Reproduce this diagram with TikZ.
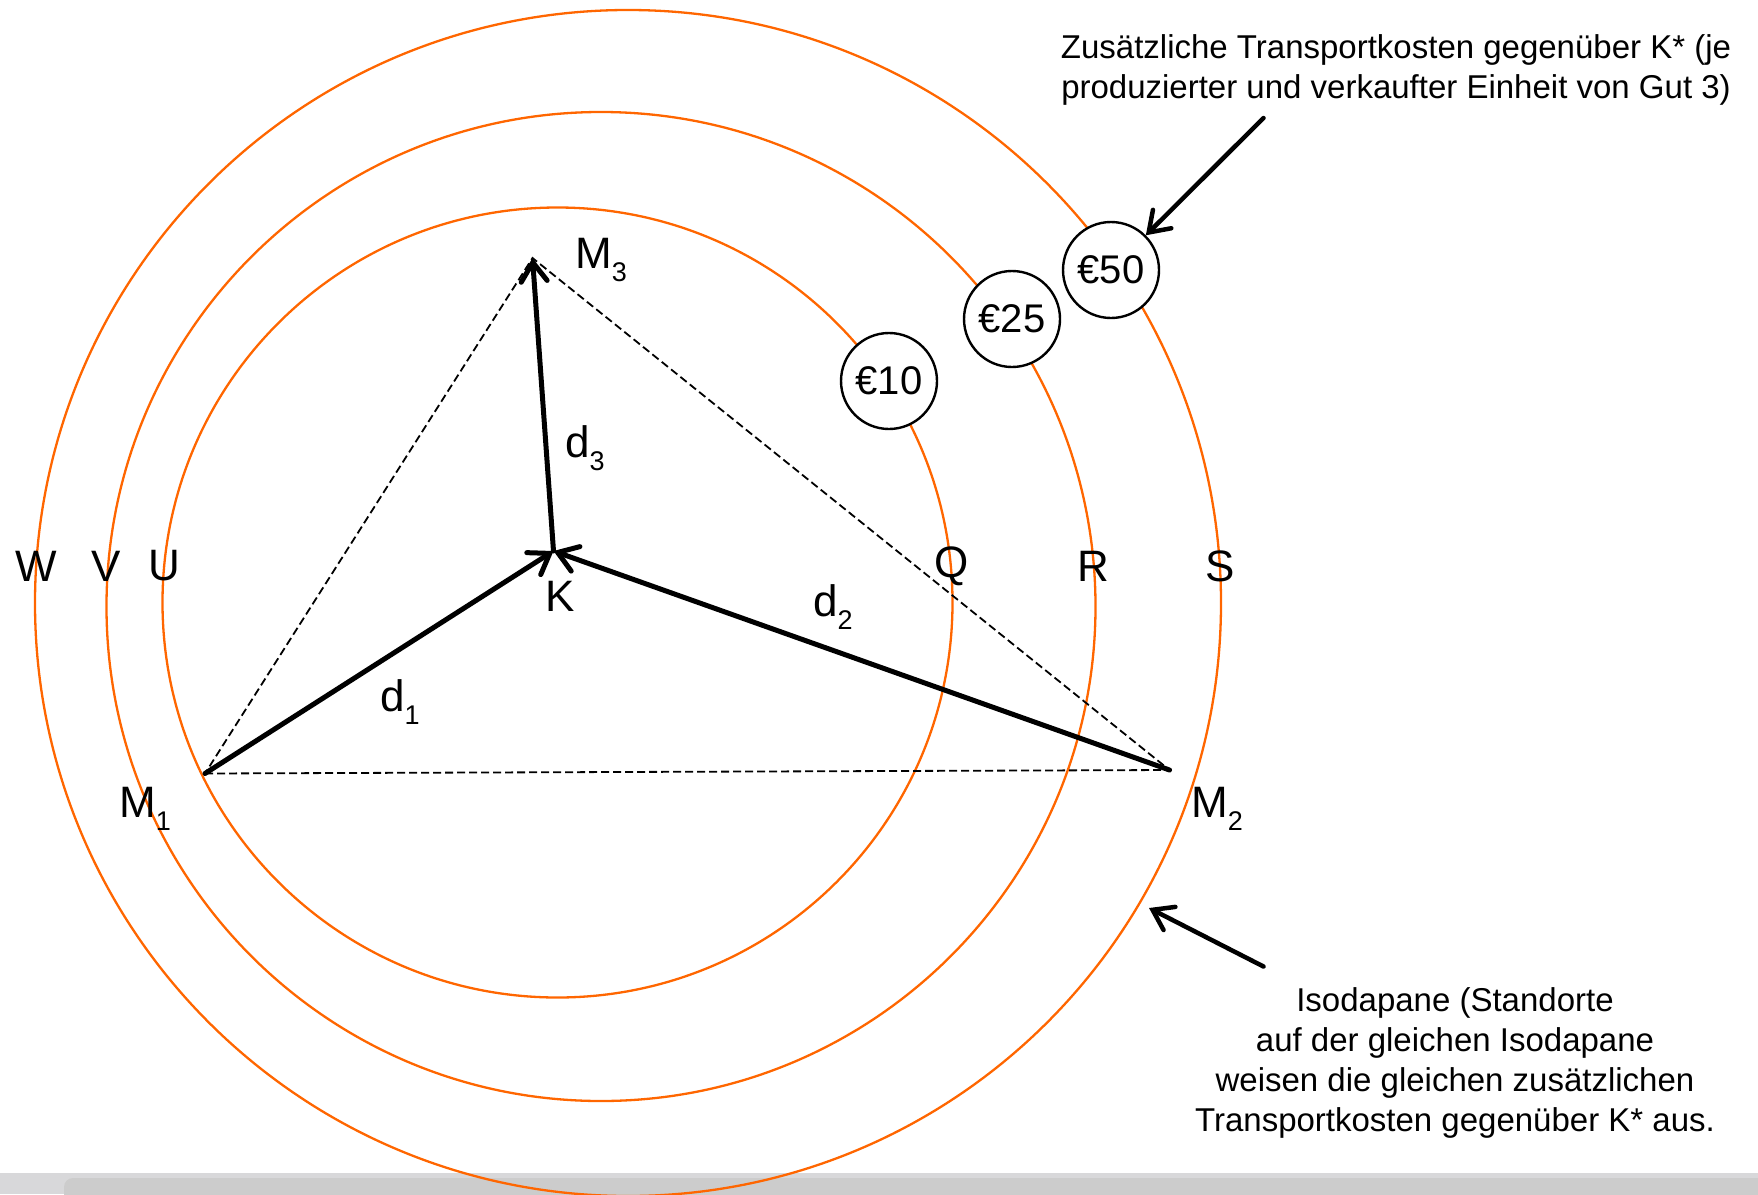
\documentclass[tikz,border=0pt]{standalone}
\usepackage{fontspec}
\setmainfont{Liberation Sans}
\usetikzlibrary{arrows.meta}

\definecolor{isoorange}{RGB}{255,102,0}
\definecolor{barlight}{RGB}{216,216,218}
\definecolor{bardark}{RGB}{204,204,204}

% letter with a lowered index
\newcommand{\ptlabel}[2]{#1\raisebox{-0.3em}{\fontsize{27}{27}\selectfont #2}}

\tikzset{
  isodapane/.style={isoorange, line width=2.3pt},
  route/.style={line width=5pt, line cap=round,
    -{Straight Barb[length=19pt,width=26pt,line cap=round]}},
  pointer/.style={line width=4.5pt, line cap=round,
    -{Straight Barb[length=19pt,width=26pt,line cap=round]}},
  helper/.style={line width=1.8pt, dash pattern=on 8pt off 4pt},
  cost/.style={draw, circle, fill=white, line width=2.4pt, minimum size=96pt,
    inner sep=0pt, font=\fontsize{40}{40}\selectfont},
  letter/.style={font=\fontsize{44}{44}\selectfont, inner sep=0pt},
  note/.style={align=center, font=\fontsize{33}{40}\selectfont, inner sep=0pt}
}

\begin{document}
\begin{tikzpicture}[x=1pt,y=-1pt]
\useasboundingbox (0,0) rectangle (1758,1194);
\clip (0,0) rectangle (1758,1194);

% window bar at the bottom
\fill[barlight] (0,1173) rectangle (1758,1194);
\fill[bardark, rounded corners=9pt] (64,1178) rectangle (1790,1214);

% isodapanes
\coordinate (c1) at (557.5,602.5);
\coordinate (c2) at (601,606.5);
\coordinate (c3) at (628,603);
\draw[isodapane] (c1) circle (395);
\draw[isodapane] (c2) circle (494.5);
\draw[isodapane] (c3) circle (593);

% locations
\coordinate (m1) at (205,773.5);
\coordinate (m2) at (1169.5,770);
\coordinate (m3) at (532.5,258);
\coordinate (k) at (553.5,551);

% triangle
\draw[helper] (m1) -- (m2) -- (m3) -- cycle;

% distances
\draw[route] (m1) -- (k);
\draw[route] (m2) -- (k);
\draw[route] (k) -- (m3);

% cost labels
\node[cost] (c10) at (889,381) {€10};
\node[cost] (c25) at (1012,319) {€25};
\node[cost] (c50) at (1111,270) {€50};

% letters
\node[letter] (w) at (36,566) {W};
\node[letter] (v) at (106.5,566) {V};
\node[letter] (u) at (164.8,566) {U};
\node[letter] (q) at (952,566) {Q};
\node[letter] (r) at (1093,566) {R};
\node[letter] (s) at (1220,566) {S};
\node[letter] (lm3) at (601,260) {\ptlabel{M}{3}};
\node[letter] (lk) at (560.5,596) {K};
\node[letter] (lm1) at (145,809) {\ptlabel{M}{1}};
\node[letter] (lm2) at (1217,809) {\ptlabel{M}{2}};
\node[letter] (d1) at (400,702) {\ptlabel{d}{1}};
\node[letter] (d2) at (833,607) {\ptlabel{d}{2}};
\node[letter] (d3) at (585,448) {\ptlabel{d}{3}};

% notes
\node[note] (costnote) at (1396,69.5) {Zusätzliche Transportkosten gegenüber K* (je\\
  produzierter und verkaufter Einheit von Gut 3)};
\node[note] (isonote) at (1455,1062.5) {Isodapane (Standorte\\
  auf der gleichen Isodapane\\ weisen die gleichen zusätzlichen\\
  Transportkosten gegenüber K* aus.};
\coordinate (costfrom) at (1263.5,118);
\coordinate (isofrom) at (1263.5,966.5);
\coordinate (isoto) at (1149,908);
\draw[pointer] (costfrom) -- (c50);
\draw[pointer] (isofrom) -- (isoto);
\end{tikzpicture}
\end{document}
